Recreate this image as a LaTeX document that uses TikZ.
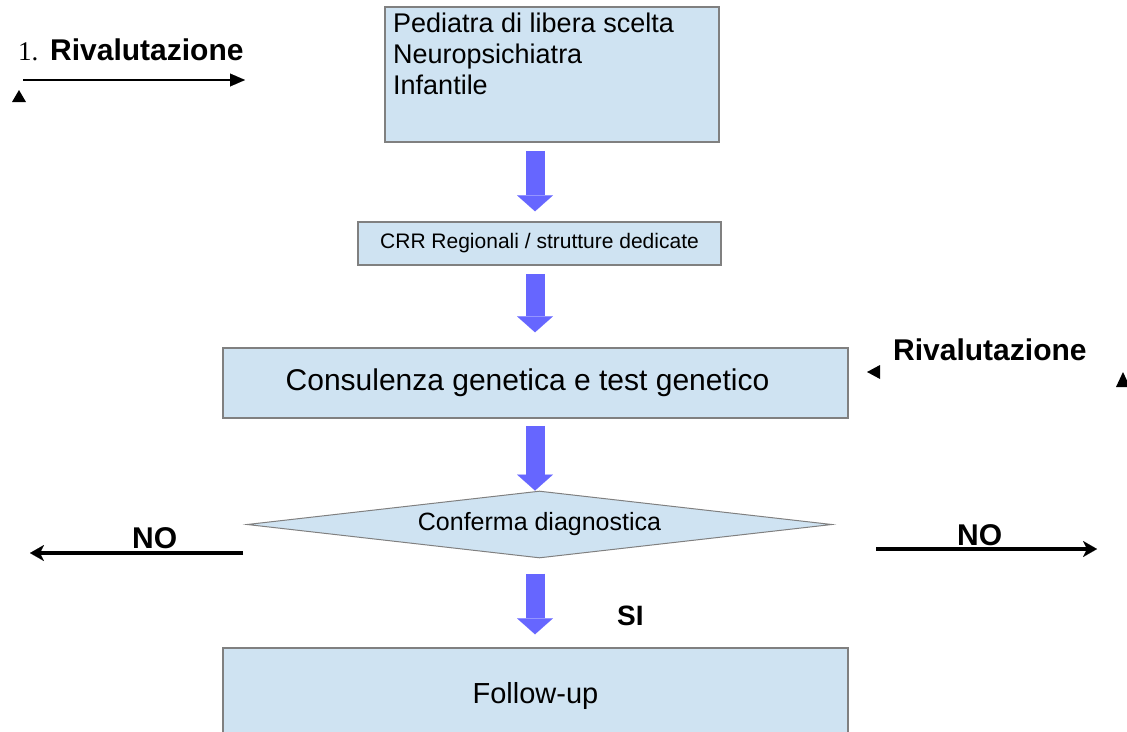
\documentclass[tikz,border=0pt]{standalone}
\usepackage{fontspec}
\setmainfont{Liberation Sans}
\newfontfamily\numfont{Liberation Serif}
\usetikzlibrary{arrows.meta, shapes.geometric}

\definecolor{boxfill}{RGB}{207,227,242}
\definecolor{boxline}{RGB}{128,128,128}
\definecolor{flowblue}{RGB}{102,102,255}

\tikzset{
  stepbox/.style={draw=boxline, fill=boxfill, line width=1.5pt, inner sep=0pt},
  decision/.style={diamond, draw=boxline, fill=boxfill, line width=1pt, inner sep=0pt,
    aspect=8.7, minimum width=585pt, minimum height=67pt},
  flow/.style={flowblue, line width=19pt, -{Triangle[width=36pt,length=16pt,line width=0.01pt]}},
  noarrow/.style={line width=4.5pt, -{Stealth[length=14pt,width=16pt,inset=4pt,line width=0.01pt]}},
  thinarrow/.style={line width=1.5pt, -{Triangle[length=15pt,width=13pt,line width=0.01pt]}},
  boldtext/.style={font=\fontsize{30}{36}\selectfont\bfseries, inner sep=0pt, anchor=base west},
}

\begin{document}
\begin{tikzpicture}[x=1pt, y=-1pt]
\clip (0,0) rectangle (1127,731);
% axis of the blue arrows
\coordinate (axis) at (535,0);
% Boxes of the path
\node[stepbox, minimum width=334pt, minimum height=135pt] (medici) at (552,74.5) {};
\node[anchor=north west, align=left, inner sep=0pt, font=\fontsize{27}{31}\selectfont] (mediciText) at (393,13)
  {Pediatra di libera scelta\\Neuropsichiatra\\Infantile};
\node[stepbox, minimum width=363pt, minimum height=43pt, font=\fontsize{21}{25}\selectfont] (crr) at (539.5,243.5)
  {CRR Regionali / strutture dedicate};
\node[stepbox, minimum width=625pt, minimum height=70pt, font=\fontsize{30}{36}\selectfont] (consulenza) at (535.5,383)
  {Consulenza genetica e test genetico\hspace*{16pt}};
\node[decision, font=\fontsize{25}{30}\selectfont] (conferma) at (539.5,524.5) {Conferma diagnostica};
\node[stepbox, minimum width=625pt, minimum height=96pt, font=\fontsize{29}{34}\selectfont] (followup) at (535.5,696)
  {Follow-up};
% Blue arrows down the column
\draw[flow, shorten <=8pt, shorten >=10pt] (medici.south -| axis) -- (crr.north -| axis);
\draw[flow, shorten <=8pt, shorten >=15pt] (crr.south -| axis) -- (consulenza.north -| axis);
\draw[flow, shorten <=7pt] (consulenza.south -| axis) -- (conferma.north -| axis);
\draw[flow, shorten <=15pt, shorten >=13pt] (conferma.south -| axis) -- (followup.north -| axis);
\node[boldtext, font=\fontsize{28}{34}\selectfont\bfseries] (si) at (617,625) {SI};
% NO branches
\coordinate (noLeftStart) at (243,553);
\coordinate (noLeftEnd) at (30,553);
\coordinate (noRightStart) at (876,549);
\coordinate (noRightEnd) at (1097,549);
\draw[noarrow] (noLeftStart) -- (noLeftEnd);
\draw[noarrow] (noRightStart) -- (noRightEnd);
\node[boldtext] (noLeft) at (132,548) {NO};
\node[boldtext] (noRight) at (957,545) {NO};
% Rivalutazione, top left
\node[anchor=base west, inner sep=0pt, font=\fontsize{27}{31}\numfont] (num) at (18,60) {1.};
\node[boldtext] (rivLeft) at (50,60) {Rivalutazione};
\coordinate (rivStart) at (23,80);
\coordinate (rivEnd) at (245,80);
\draw[thinarrow] (rivStart) -- (rivEnd);
\fill (12,102) -- (19,90) -- (26,102) -- cycle;
% Rivalutazione, right
\node[boldtext] (rivRight) at (893,360) {Rivalutazione};
\fill (867,372) -- (880,365) -- (880,379) -- cycle;
\fill (1116,387) -- (1123,372) -- (1130,387) -- cycle;
\end{tikzpicture}
\end{document}
